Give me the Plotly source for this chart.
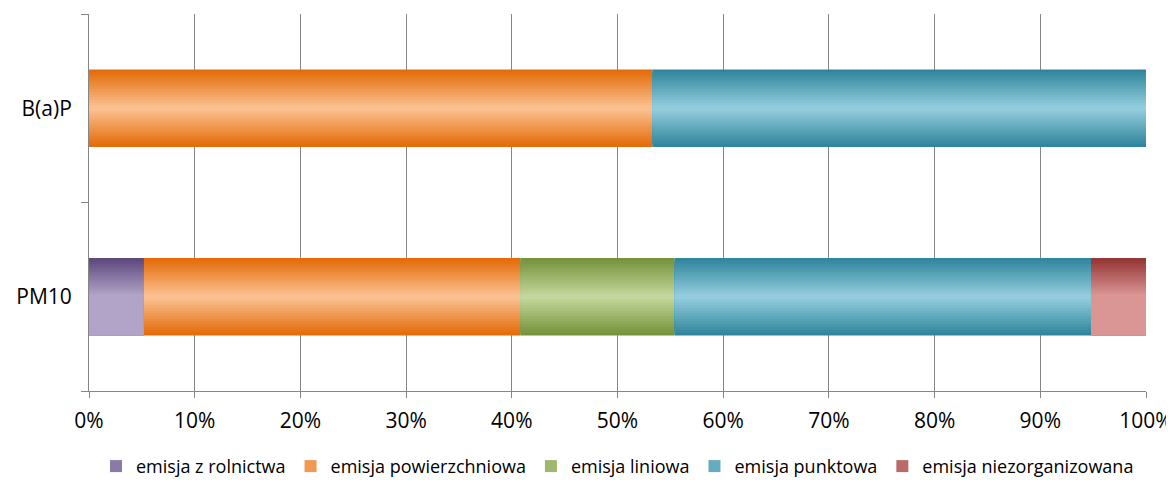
import plotly.graph_objects as go

# udział źródeł emisji [%]
kategorie = ["PM10", "B(a)P"]
rolnictwo = [5.2, 0.0]
powierzchniowa = [35.6, 53.3]
liniowa = [14.6, 0.0]
punktowa = [39.4, 46.7]
niezorganizowana = [5.2, 0.0]

nazwy = ["emisja z rolnictwa", "emisja powierzchniowa", "emisja liniowa",
         "emisja punktowa", "emisja niezorganizowana"]
serie = [rolnictwo, powierzchniowa, liniowa, punktowa, niezorganizowana]

# kolor krawędzi, kolor środka, czy gradient symetryczny (Excel-like)
style = [("#5E4A7D", "#B2A3C8", False),
         ("#E46C0A", "#FAC090", True),
         ("#77933C", "#C3D69B", True),
         ("#31859C", "#93CDDD", True),
         ("#953735", "#D99694", False)]

W = 0.41      # grubość słupka
N = 14        # ilość warstw gradientu


def mix(c1, c2, t):
    a = [int(c1[i:i + 2], 16) for i in (1, 3, 5)]
    b = [int(c2[i:i + 2], 16) for i in (1, 3, 5)]
    return "rgb(%d,%d,%d)" % tuple(round(a[j] + (b[j] - a[j]) * t) for j in range(3))


fig = go.Figure()

start = [0.0] * len(kategorie)
for nazwa, wart, (c_edge, c_mid, sym) in zip(nazwy, serie, style):
    for k in range(N):
        t = k / (N - 1)
        if sym:
            w = W * (1 - k / N)
            off = -w / 2
        else:
            w = W - k * W / (2 * N)
            off = -W / 2
        fig.add_trace(go.Bar(
            y=kategorie,
            x=wart,
            base=start,
            orientation="h",
            width=w,
            offset=off,
            name=nazwa,
            legendgroup=nazwa,
            showlegend=(k == N // 2),
            marker=dict(color=mix(c_edge, c_mid, t), line=dict(width=0)),
            hovertemplate="%{y}: %{x}%<extra>" + nazwa + "</extra>",
        ))
    start = [s + v for s, v in zip(start, wart)]

osie = "#868686"

# strona ma domyślny margines 8 px, stąd mniejsze wymiary
fig.update_layout(
    barmode="overlay",
    width=1166, height=480,
    margin=dict(l=81, r=28, t=6, b=97, autoexpand=False),
    plot_bgcolor="white",
    paper_bgcolor="white",
    font=dict(family="Open Sans, Liberation Sans, sans-serif", color="black", size=21),
    legend=dict(orientation="h", x=0.5, xanchor="center", y=-0.2, yanchor="middle",
                font=dict(size=18), traceorder="normal", itemwidth=30,
                tracegroupgap=0),
    xaxis=dict(range=[0, 100], dtick=10, ticksuffix="%", showgrid=True,
               gridcolor=osie, gridwidth=1, zeroline=False, showline=True,
               linecolor=osie, linewidth=1, ticks="outside", ticklen=6,
               tickcolor=osie, ticklabelstandoff=5, fixedrange=True,
               automargin=False),
    yaxis=dict(type="category", categoryorder="array", categoryarray=kategorie,
               range=[-0.5, 1.5], showgrid=False, zeroline=False, showline=True,
               linecolor=osie, linewidth=1, ticks="outside", ticklen=7,
               tickcolor=osie, tickson="boundaries", ticklabelstandoff=12,
               fixedrange=True, automargin=False),
)

fig.write_html("out.html")
